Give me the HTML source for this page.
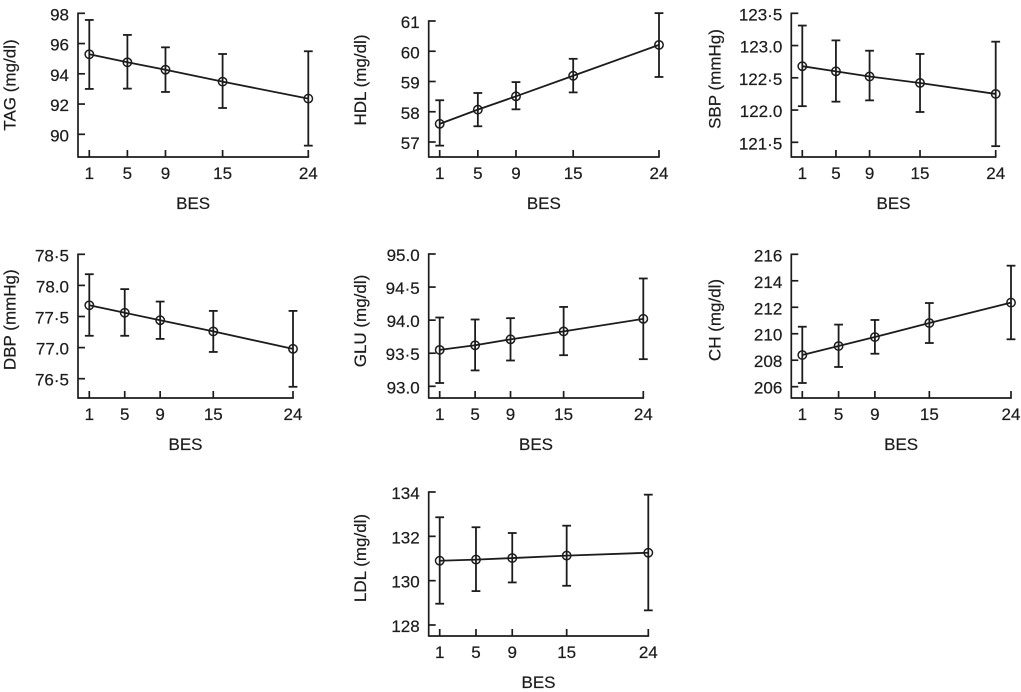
<!DOCTYPE html>
<html lang="en">
<head>
<meta charset="utf-8">
<title>Risk factors by BES</title>
<style>
  html, body { margin: 0; padding: 0; background: #fff; }
  body { width: 1021px; height: 692px; overflow: hidden; }
  svg { display: block; }
  text { font-family: "Liberation Sans", Arial, sans-serif; font-size: 17px; fill: #1c1c1c; stroke: #1c1c1c; stroke-width: 0.2px; }
</style>
</head>
<body>
<svg id="chart" xmlns="http://www.w3.org/2000/svg" width="1021" height="692" viewBox="0 0 1021 692"></svg>
<script>
// Shared category axis
const besValues = [1, 5, 9, 15, 24];
const besLabels = ['1', '5', '9', '15', '24'];

// TAG
const tagMeans = [95.29, 94.76, 94.27, 93.48, 92.36];
const tagUpper = [97.56, 96.57, 95.75, 95.31, 95.49];
const tagLower = [93.0, 93.02, 92.8, 91.74, 89.25];
const tagTicks = [98, 96, 94, 92, 90];
const tagTickLabels = ['98', '96', '94', '92', '90'];

// HDL
const hdlMeans = [57.6, 58.07, 58.51, 59.19, 60.21];
const hdlUpper = [58.38, 58.62, 58.98, 59.75, 61.26];
const hdlLower = [56.88, 57.52, 58.08, 58.64, 59.15];
const hdlTicks = [61, 60, 59, 58, 57];
const hdlTickLabels = ['61', '60', '59', '58', '57'];

// SBP
const sbpMeans = [122.68, 122.6, 122.52, 122.42, 122.25];
const sbpUpper = [123.31, 123.08, 122.92, 122.87, 123.06];
const sbpLower = [122.06, 122.13, 122.15, 121.97, 121.44];
const sbpTicks = [123.5, 123, 122.5, 122, 121.5];
const sbpTickLabels = ['123·5', '123.0', '122·5', '122.0', '121·5'];

// DBP
const dbpMeans = [77.68, 77.56, 77.44, 77.26, 76.98];
const dbpUpper = [78.18, 77.94, 77.74, 77.59, 77.59];
const dbpLower = [77.19, 77.19, 77.14, 76.93, 76.37];
const dbpTicks = [78.5, 78, 77.5, 77, 76.5];
const dbpTickLabels = ['78·5', '78.0', '77·5', '77.0', '76·5'];

// GLU
const gluMeans = [93.55, 93.62, 93.71, 93.83, 94.02];
const gluUpper = [94.04, 94.01, 94.03, 94.2, 94.63];
const gluLower = [93.05, 93.24, 93.39, 93.47, 93.41];
const gluTicks = [95, 94.5, 94, 93.5, 93];
const gluTickLabels = ['95.0', '94·5', '94.0', '93·5', '93.0'];

// CH
const chMeans = [208.39, 209.07, 209.75, 210.81, 212.35];
const chUpper = [210.53, 210.69, 211.04, 212.32, 215.14];
const chLower = [206.28, 207.49, 208.49, 209.3, 209.58];
const chTicks = [216, 214, 212, 210, 208, 206];
const chTickLabels = ['216', '214', '212', '210', '208', '206'];

// LDL
const ldlMeans = [130.9, 130.95, 131.02, 131.13, 131.26];
const ldlUpper = [132.86, 132.41, 132.15, 132.48, 133.88];
const ldlLower = [128.96, 129.53, 129.92, 129.77, 128.66];
const ldlTicks = [134, 132, 130, 128];
const ldlTickLabels = ['134', '132', '130', '128'];

const svg = document.getElementById('chart');
const NS = 'http://www.w3.org/2000/svg';
const INK = '#1c1c1c';

function mk(parent, tag, name) {
  const el = document.createElementNS(NS, tag);
  
  
  parent.appendChild(el);
  return el;
}

function seg(parent, name, x1, y1, x2, y2, w) {
  const el = mk(parent, 'line', name);
  el.setAttribute('x1', x1);
  el.setAttribute('y1', y1);
  el.setAttribute('x2', x2);
  el.setAttribute('y2', y2);
  el.setAttribute('stroke', INK);
  el.setAttribute('stroke-width', w);
  return el;
}

function label(parent, name, x, y, anchor, str) {
  const el = mk(parent, 'text', name);
  el.setAttribute('x', x);
  el.setAttribute('y', y);
  el.setAttribute('text-anchor', anchor);
  el.textContent = str;
  return el;
}

function drawPanel(p) {
  const g = mk(svg, 'g', p.key + '-panel');
  const n = p.ticks.length - 1;
  const yScale = v => p.topY + (p.ticks[0] - v) * (p.lastY - p.topY) / (p.ticks[0] - p.ticks[n]);
  const xScale = b => p.x1 + (b - besValues[0]) * (p.x24 - p.x1) / (besValues[besValues.length - 1] - besValues[0]);
  const end = xScale(besValues[besValues.length - 1]);

  seg(g, p.key + '-y-axis', p.axisX, p.topY - 0.8, p.axisX, p.bottom + 0.8, 1.7);
  seg(g, p.key + '-x-axis', p.axisX, p.bottom, end + 0.8, p.bottom, 1.7);

  p.ticks.forEach((t, i) => {
    const y = yScale(t);
    seg(g, p.key + '-y-tick', p.axisX, y, p.axisX + 7, y, 1.7);
    label(g, p.key + '-y-tick-label', p.axisX - 9, y + 7, 'end', p.tickLabels[i]);
  });

  besValues.forEach((b, i) => {
    const x = xScale(b);
    seg(g, p.key + '-x-tick', x, p.bottom, x, p.bottom - 7, 1.7);
    label(g, p.key + '-x-tick-label', x, p.bottom + 22, 'middle', besLabels[i]);
  });

  label(g, p.key + '-x-axis-title', (p.axisX + end) / 2, p.bottom + 52, 'middle', 'BES');
  const yTitle = label(g, p.key + '-y-axis-title', 0, 0, 'middle', p.title);
  yTitle.setAttribute('transform', 'translate(' + (p.axisX - p.titleGap) + ' ' + p.titleY + ') rotate(-90)');

  const path = mk(g, 'polyline', p.key + '-trend-line');
  path.setAttribute('points', besValues.map((b, i) => xScale(b) + ',' + yScale(p.means[i])).join(' '));
  path.setAttribute('fill', 'none');
  path.setAttribute('stroke', INK);
  path.setAttribute('stroke-width', 1.8);

  besValues.forEach((b, i) => {
    const x = xScale(b);
    const up = yScale(p.upper[i]);
    const lo = yScale(p.lower[i]);
    seg(g, p.key + '-error-bar', x, up, x, lo, 1.8);
    seg(g, p.key + '-error-cap-upper', x - 4.4, up, x + 4.4, up, 1.8);
    seg(g, p.key + '-error-cap-lower', x - 4.4, lo, x + 4.4, lo, 1.8);
    const c = mk(g, 'circle', p.key + '-point');
    c.setAttribute('cx', x);
    c.setAttribute('cy', yScale(p.means[i]));
    c.setAttribute('r', 4.2);
    c.setAttribute('fill', 'none');
    c.setAttribute('stroke', INK);
    c.setAttribute('stroke-width', 1.5);
  });
}

drawPanel({ key: 'tag', title: 'TAG (mg/dl)', means: tagMeans, upper: tagUpper, lower: tagLower, ticks: tagTicks, tickLabels: tagTickLabels,
  axisX: 78, x1: 89.3, x24: 308.3, bottom: 157, topY: 13.3, lastY: 134.3, titleGap: 62.7, titleY: 85 });
drawPanel({ key: 'hdl', title: 'HDL (mg/dl)', means: hdlMeans, upper: hdlUpper, lower: hdlLower, ticks: hdlTicks, tickLabels: hdlTickLabels,
  axisX: 428.7, x1: 439.7, x24: 659, bottom: 157, topY: 21, lastY: 142, titleGap: 62.7, titleY: 80 });
drawPanel({ key: 'sbp', title: 'SBP (mmHg)', means: sbpMeans, upper: sbpUpper, lower: sbpLower, ticks: sbpTicks, tickLabels: sbpTickLabels,
  axisX: 791.3, x1: 802.3, x24: 995.7, bottom: 157, topY: 13.3, lastY: 142.3, titleGap: 71, titleY: 79 });
drawPanel({ key: 'dbp', title: 'DBP (mmHg)', means: dbpMeans, upper: dbpUpper, lower: dbpLower, ticks: dbpTicks, tickLabels: dbpTickLabels,
  axisX: 78, x1: 89.3, x24: 293, bottom: 398, topY: 254.3, lastY: 378.7, titleGap: 62.7, titleY: 319.7 });
drawPanel({ key: 'glu', title: 'GLU (mg/dl)', means: gluMeans, upper: gluUpper, lower: gluLower, ticks: gluTicks, tickLabels: gluTickLabels,
  axisX: 428.7, x1: 439.7, x24: 643.3, bottom: 398, topY: 254, lastY: 386.3, titleGap: 62.7, titleY: 321 });
drawPanel({ key: 'ch', title: 'CH (mg/dl)', means: chMeans, upper: chUpper, lower: chLower, ticks: chTicks, tickLabels: chTickLabels,
  axisX: 791.3, x1: 802.3, x24: 1011, bottom: 398, topY: 254.3, lastY: 386.7, titleGap: 71, titleY: 320 });
drawPanel({ key: 'ldl', title: 'LDL (mg/dl)', means: ldlMeans, upper: ldlUpper, lower: ldlLower, ticks: ldlTicks, tickLabels: ldlTickLabels,
  axisX: 428.7, x1: 439.7, x24: 648.3, bottom: 636, topY: 492, lastY: 625, titleGap: 62.7, titleY: 558 });
</script>
</body>
</html>
